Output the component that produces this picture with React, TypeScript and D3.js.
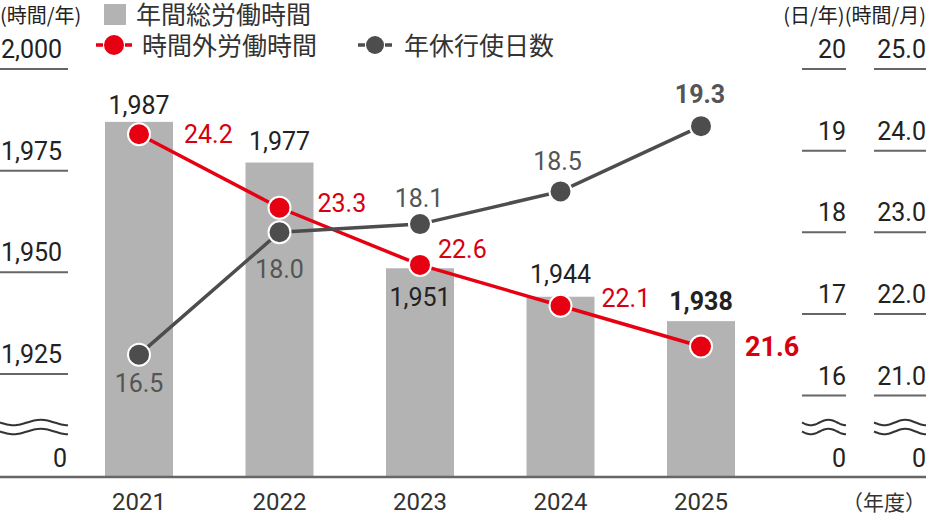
import * as d3 from "d3";
import { useEffect, useRef } from "react";

// 年度
const years = ["2021", "2022", "2023", "2024", "2025"];
// 年間総労働時間（時間/年）
const totalHours = [1987, 1977, 1951, 1944, 1938];
// 時間外労働時間（時間/月）
const overtimeHours = [24.2, 23.3, 22.6, 22.1, 21.6];
// 年休行使日数（日/年）
const leaveDays = [16.5, 18.0, 18.1, 18.5, 19.3];

const leftTicks = [2000, 1975, 1950, 1925];
const dayTicks = [20, 19, 18, 17, 16];
const hourTicks = [25, 24, 23, 22, 21];

// where each value label sits relative to its mark
const barLabelDy = [-8, -13, 38, -14, -11];
const overtimeLabelOffset = [
  [45, 9],
  [38, 4],
  [18, -7],
  [41, 1],
  [44, 9],
];
const leaveLabelOffset = [
  [0, 37],
  [0, 46],
  [-1, -17],
  [-3, -21],
  [-1, -23],
];

const W = 926;
const H = 530;
const FONT = "Roboto, 'Noto Sans CJK JP', sans-serif";
const JP = "'Noto Sans CJK JP', sans-serif";
const RED = "#e60012";
const RED_TEXT = "#d7000f";
const GRAY = "#4d4d4d";
const BAR = "#b3b3b3";
const AXIS = "#666";

export default function App() {
  const svgRef = useRef<SVGSVGElement | null>(null);

  useEffect(() => {
    if (!svgRef.current) return;
    const svg = d3.select(svgRef.current);
    svg.selectAll("*").remove();

    const baseline = 477;
    const x = d3
      .scaleBand<string>()
      .domain(years)
      .range([68.75, 771.25])
      .paddingInner(0.516)
      .paddingOuter(0.258);
    const cx = (d: string) => x(d)! + x.bandwidth() / 2;

    const yLeft = d3.scaleLinear().domain([1925, 2000]).range([374, 69]);
    const yDays = d3.scaleLinear().domain([16, 20]).range([395.5, 69]);
    const yHours = d3.scaleLinear().domain([21, 25]).range([395.5, 69]);

    const fmtTotal = d3.format(",");
    const fmt1 = d3.format(".1f");

    // wavy break marks
    const wave = (x0: number, x1: number, y0: number) => {
      const pts = d3.range(0, 1.0001, 0.05).map((t) => [
        x0 + (x1 - x0) * t,
        y0 + 2.8 * Math.sin((2 * Math.PI * t) / 0.8),
      ]) as [number, number][];
      return d3.line().curve(d3.curveBasis)(pts);
    };

    // axis units
    svg
      .append("text")
      .attr("x", 0)
      .attr("y", 23)
      .attr("font-family", JP)
      .attr("font-size", 20)
      .attr("fill", "#222")
      .text("(時間/年)");
    svg
      .append("text")
      .attr("x", W)
      .attr("y", 23)
      .attr("text-anchor", "end")
      .attr("font-family", JP)
      .attr("font-size", 20)
      .attr("fill", "#222")
      .text("(日/年)(時間/月)");

    // bars
    svg
      .append("g")
      .selectAll("rect")
      .data(totalHours)
      .join("rect")
      .attr("x", (_, i) => x(years[i])!)
      .attr("y", (d) => yLeft(d))
      .attr("width", x.bandwidth())
      .attr("height", (d) => baseline - yLeft(d))
      .attr("fill", BAR);

    // left axis ticks
    const leftG = svg.append("g");
    leftTicks.forEach((t) => {
      leftG
        .append("line")
        .attr("x1", 0)
        .attr("x2", 68)
        .attr("y1", yLeft(t))
        .attr("y2", yLeft(t))
        .attr("stroke", AXIS)
        .attr("stroke-width", 2);
      leftG
        .append("text")
        .attr("x", 1)
        .attr("y", yLeft(t) - 11)
        .attr("font-family", FONT)
        .attr("font-size", 25)
        .attr("fill", "#222")
        .text(fmtTotal(t));
    });

    // right axis ticks
    const rightG = svg.append("g");
    dayTicks.forEach((t) => {
      rightG
        .append("line")
        .attr("x1", 802)
        .attr("x2", 846)
        .attr("y1", yDays(t))
        .attr("y2", yDays(t))
        .attr("stroke", AXIS)
        .attr("stroke-width", 2);
      rightG
        .append("text")
        .attr("x", 846)
        .attr("y", yDays(t) - 11)
        .attr("text-anchor", "end")
        .attr("font-family", FONT)
        .attr("font-size", 25)
        .attr("fill", "#222")
        .text(t);
    });
    hourTicks.forEach((t) => {
      rightG
        .append("line")
        .attr("x1", 874)
        .attr("x2", 926)
        .attr("y1", yHours(t))
        .attr("y2", yHours(t))
        .attr("stroke", AXIS)
        .attr("stroke-width", 2);
      rightG
        .append("text")
        .attr("x", 926)
        .attr("y", yHours(t) - 11)
        .attr("text-anchor", "end")
        .attr("font-family", FONT)
        .attr("font-size", 25)
        .attr("fill", "#222")
        .text(fmt1(t));
    });

    // breaks and zero labels
    const breaks: [number, number, number][] = [
      [0, 68, 67],
      [802, 846, 846],
      [874, 926, 926],
    ];
    breaks.forEach(([a, b, lx]) => {
      [422.5, 431.5].forEach((yy) =>
        svg
          .append("path")
          .attr("d", wave(a, b, yy))
          .attr("fill", "none")
          .attr("stroke", "#333")
          .attr("stroke-width", 2)
      );
      svg
        .append("text")
        .attr("x", lx)
        .attr("y", 467)
        .attr("text-anchor", "end")
        .attr("font-family", FONT)
        .attr("font-size", 25)
        .attr("fill", "#222")
        .text("0");
    });

    // x axis
    svg
      .append("line")
      .attr("x1", 0)
      .attr("x2", W)
      .attr("y1", baseline)
      .attr("y2", baseline)
      .attr("stroke", AXIS)
      .attr("stroke-width", 2.5);
    svg
      .append("g")
      .selectAll("text")
      .data(years)
      .join("text")
      .attr("x", (d) => cx(d))
      .attr("y", 510)
      .attr("text-anchor", "middle")
      .attr("font-family", FONT)
      .attr("font-size", 24)
      .attr("fill", "#333")
      .text((d) => d);
    svg
      .append("text")
      .attr("x", W)
      .attr("y", 510)
      .attr("text-anchor", "end")
      .attr("font-family", JP)
      .attr("font-size", 21)
      .attr("fill", "#333")
      .text("（年度）");

    // bar value labels
    svg
      .append("g")
      .selectAll("text")
      .data(totalHours)
      .join("text")
      .attr("x", (_, i) => cx(years[i]))
      .attr("y", (d, i) => yLeft(d) + barLabelDy[i])
      .attr("text-anchor", "middle")
      .attr("font-family", FONT)
      .attr("font-size", 25)
      .attr("font-weight", (_, i) => (i === years.length - 1 ? 700 : 400))
      .attr("fill", "#222")
      .text((d) => fmtTotal(d));

    // lines
    const overtimeLine = d3
      .line<number>()
      .x((_, i) => cx(years[i]))
      .y((d) => yHours(d));
    const leaveLine = d3
      .line<number>()
      .x((_, i) => cx(years[i]))
      .y((d) => yDays(d));

    svg
      .append("path")
      .datum(overtimeHours)
      .attr("d", overtimeLine)
      .attr("fill", "none")
      .attr("stroke", RED)
      .attr("stroke-width", 3.5);
    svg
      .append("path")
      .datum(leaveDays)
      .attr("d", leaveLine)
      .attr("fill", "none")
      .attr("stroke", GRAY)
      .attr("stroke-width", 3.5);

    svg
      .append("g")
      .selectAll("circle")
      .data(overtimeHours)
      .join("circle")
      .attr("cx", (_, i) => cx(years[i]))
      .attr("cy", (d) => yHours(d))
      .attr("r", 11)
      .attr("fill", RED)
      .attr("stroke", "#fff")
      .attr("stroke-width", 2);
    svg
      .append("g")
      .selectAll("circle")
      .data(leaveDays)
      .join("circle")
      .attr("cx", (_, i) => cx(years[i]))
      .attr("cy", (d) => yDays(d))
      .attr("r", 11)
      .attr("fill", GRAY)
      .attr("stroke", "#fff")
      .attr("stroke-width", 2);

    // line value labels
    svg
      .append("g")
      .selectAll("text")
      .data(overtimeHours)
      .join("text")
      .attr("x", (_, i) => cx(years[i]) + overtimeLabelOffset[i][0])
      .attr("y", (d, i) => yHours(d) + overtimeLabelOffset[i][1])
      .attr("font-family", FONT)
      .attr("font-size", (_, i) => (i === years.length - 1 ? 27 : 25))
      .attr("font-weight", (_, i) => (i === years.length - 1 ? 700 : 400))
      .attr("fill", RED_TEXT)
      .text((d) => fmt1(d));
    svg
      .append("g")
      .selectAll("text")
      .data(leaveDays)
      .join("text")
      .attr("x", (_, i) => cx(years[i]) + leaveLabelOffset[i][0])
      .attr("y", (d, i) => yDays(d) + leaveLabelOffset[i][1])
      .attr("text-anchor", "middle")
      .attr("font-family", FONT)
      .attr("font-size", 25)
      .attr("font-weight", (_, i) => (i === years.length - 1 ? 700 : 400))
      .attr("fill", "#555")
      .text((d) => fmt1(d));

    // legend
    const legend = svg.append("g");
    legend
      .append("rect")
      .attr("x", 104)
      .attr("y", 4)
      .attr("width", 22)
      .attr("height", 21)
      .attr("fill", BAR);
    legend
      .append("text")
      .attr("x", 136)
      .attr("y", 24)
      .attr("font-family", JP)
      .attr("font-size", 25)
      .attr("fill", "#333")
      .text("年間総労働時間");

    const legendMarker = (c: number, color: string, r: number, tx: number, label: string) => {
      legend
        .append("line")
        .attr("x1", c - r - 8)
        .attr("x2", c + r + 8)
        .attr("y1", 45)
        .attr("y2", 45)
        .attr("stroke", color)
        .attr("stroke-width", 3.5)
        .attr("stroke-dasharray", `7 ${2 * r + 2} 7`);
      legend.append("circle").attr("cx", c).attr("cy", 45).attr("r", r).attr("fill", color);
      legend
        .append("text")
        .attr("x", tx)
        .attr("y", 55)
        .attr("font-family", JP)
        .attr("font-size", 25)
        .attr("fill", "#333")
        .text(label);
    };
    legendMarker(114, RED, 10, 142, "時間外労働時間");
    legendMarker(375, GRAY, 9, 404, "年休行使日数");
  }, []);

  return (
    <svg
      ref={svgRef}
      width={W}
      height={H}
      style={{ position: "absolute", left: 0, top: 0, background: "#fff" }}
    />
  );
}
